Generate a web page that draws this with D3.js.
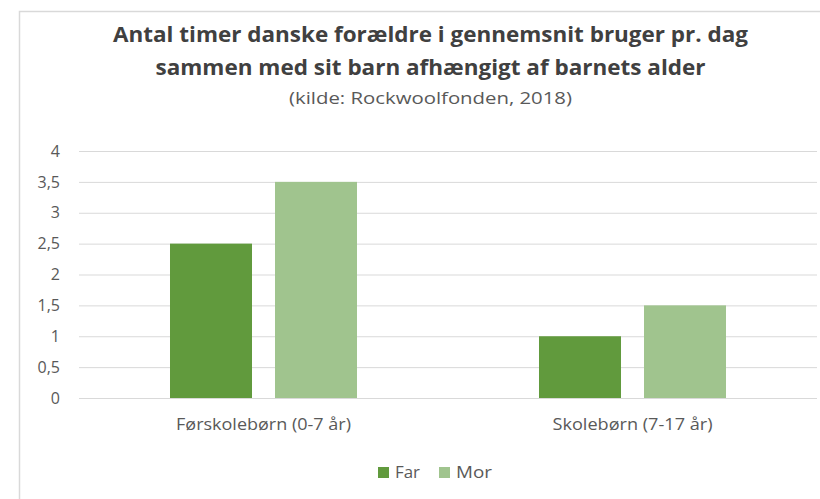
<!DOCTYPE html>
<html>
<head>
<meta charset="utf-8">
<script src="https://cdn.jsdelivr.net/npm/d3@7"></script>
<style>
  body { margin: 0; background: #fff; }
  svg { display: block; font-family: "Open Sans", sans-serif; }
  .grid line { stroke: #d9d9d9; stroke-width: 1; }
</style>
</head>
<body>
<script>
"use strict";

// data
var categories = ['Førskolebørn (0-7 år)', 'Skolebørn (7-17 år)'];
var series = ['Far', 'Mor'];
var far_values = [2.5, 1.0];
var mor_values = [3.5, 1.5];
var y_ticks = [0, 0.5, 1, 1.5, 2, 2.5, 3, 3.5, 4];
var title_lines = [
  'Antal timer danske forældre i gennemsnit bruger pr. dag',
  'sammen med sit barn afhængigt af barnets alder'
];
var subtitle = '(kilde: Rockwoolfonden, 2018)';

var colors = {Far: '#619a3d', Mor: '#a0c48e'};

var width = 820,
  height = 499,
  plot = {left: 79, right: 817, top: 151, bottom: 398},
  cx = 430.5;

var svg = d3.select('body').append('svg')
  .attr('width', width)
  .attr('height', height);

// chart frame
svg.append('rect')
  .attr('x', 19.5)
  .attr('y', 11.5)
  .attr('width', 900)
  .attr('height', 600)
  .attr('fill', '#fff')
  .attr('stroke', '#d9d9d9')
  .attr('stroke-width', 1.5);

// titles -------------------------------------------------
var title_widths = [635, 550];
var title_y = [42, 75];

title_lines.forEach(function(t, i) {
  svg.append('text')
    .attr('x', cx)
    .attr('y', title_y[i])
    .attr('text-anchor', 'middle')
    .attr('font-size', 21)
    .attr('font-weight', 'bold')
    .attr('fill', '#404040')
    .attr('textLength', title_widths[i])
    .attr('lengthAdjust', 'spacingAndGlyphs')
    .text(t);
});

svg.append('text')
  .attr('x', cx)
  .attr('y', 104)
  .attr('text-anchor', 'middle')
  .attr('font-size', 16)
  .attr('fill', '#595959')
  .attr('textLength', 283)
  .attr('lengthAdjust', 'spacingAndGlyphs')
  .text(subtitle);

// scales -------------------------------------------------
var scale_y = d3.scaleLinear()
  .domain([0, 4])
  .range([plot.bottom, plot.top]);

var scale_cat = d3.scaleBand()
  .domain(categories)
  .range([plot.left, plot.right])
  .paddingInner(0.4932)
  .paddingOuter(0.4932 / 2);

var scale_series = d3.scaleBand()
  .domain(series)
  .range([0, scale_cat.bandwidth()])
  .paddingInner(0.219);

// gridlines
svg.append('g')
  .attr('class', 'grid')
  .attr('transform', `translate(${plot.left}, 0)`)
  .call(d3.axisLeft(scale_y)
    .tickValues(y_ticks)
    .tickSize(-(plot.right - plot.left))
    .tickFormat(''))
  .call(g => g.select('.domain').remove());

// y axis labels
var axis_y = d3.axisLeft(scale_y)
  .tickValues(y_ticks)
  .tickSize(0)
  .tickPadding(0)
  .tickFormat(d => String(d).replace('.', ','));

svg.append('g')
  .attr('class', 'axis')
  .attr('transform', 'translate(60, 0)')
  .call(axis_y)
  .attr('font-family', '"Open Sans", sans-serif')
  .attr('font-size', 16)
  .call(g => g.select('.domain').remove())
  .call(g => g.selectAll('text').attr('fill', '#595959'));

// bars ---------------------------------------------------
var bar_data = [];
categories.forEach(function(c, i) {
  bar_data.push({cat: c, s: 'Far', v: far_values[i]});
  bar_data.push({cat: c, s: 'Mor', v: mor_values[i]});
});

svg.append('g')
  .selectAll('rect')
  .data(bar_data)
  .enter()
  .append('rect')
  .attr('x', d => scale_cat(d.cat) + scale_series(d.s))
  .attr('y', d => scale_y(d.v))
  .attr('width', scale_series.bandwidth())
  .attr('height', d => scale_y(0) - scale_y(d.v))
  .attr('fill', d => colors[d.s]);

// category labels
var cat_widths = [175, 160];

svg.append('g')
  .selectAll('text')
  .data(categories)
  .enter()
  .append('text')
  .attr('x', d => scale_cat(d) + scale_cat.bandwidth() / 2)
  .attr('y', 430)
  .attr('text-anchor', 'middle')
  .attr('font-size', 16)
  .attr('fill', '#595959')
  .attr('textLength', (d, i) => cat_widths[i])
  .attr('lengthAdjust', 'spacingAndGlyphs')
  .text(d => d);

// legend -------------------------------------------------
var legend_x = [378, 439],
  legend_w = [25, 36];

var legend = svg.append('g')
  .selectAll('g')
  .data(series)
  .enter()
  .append('g')
  .attr('transform', (d, i) => `translate(${legend_x[i]}, 467)`);

legend.append('rect')
  .attr('width', 11)
  .attr('height', 11)
  .attr('fill', d => colors[d]);

legend.append('text')
  .attr('x', 17)
  .attr('y', 11)
  .attr('font-size', 16)
  .attr('fill', '#595959')
  .attr('textLength', (d, i) => legend_w[i])
  .attr('lengthAdjust', 'spacingAndGlyphs')
  .text(d => d);
</script>
</body>
</html>
